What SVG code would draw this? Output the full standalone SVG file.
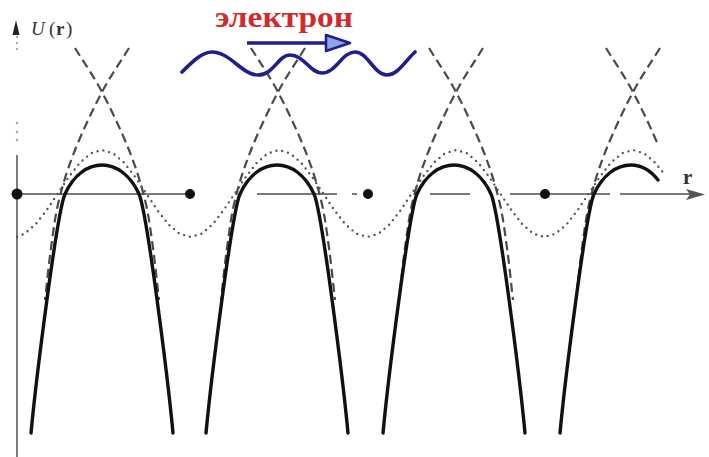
<svg xmlns="http://www.w3.org/2000/svg" xmlns:xlink="http://www.w3.org/1999/xlink" width="709" height="457" viewBox="0 0 709 457">
<style>
.axis{stroke:#7a7a7a;stroke-width:2;fill:none}
.solid{stroke:#111;stroke-width:3.4;fill:none;stroke-linecap:round}
.dash{stroke:#4a4a4a;stroke-width:2.2;fill:none;stroke-dasharray:9 5}
.dot{stroke:#555;stroke-width:2.4;fill:none;stroke-dasharray:0 6;stroke-linecap:round}
.serif{font-family:"Liberation Serif","Times New Roman",serif}
</style>
<defs>
<path id="bump" d="M-71,433 C-66,380 -45,211.6 -37,194 C-28.2,174.65 -14.1,165 0,165 C14.1,165 28.2,174.65 37,194 C45,211.6 66,380 71,433"/>
<path id="armA" d="M-27,48 C-18,62.7 -9,75 0,92 C9,109 19.8,132 27,150 C34.2,168 39,183.7 43,200 C47,216.3 48.7,231.3 51,248 C53.3,264.7 55,282.7 57,300"/>
</defs>
<rect width="709" height="457" fill="#fff"/>
<g id="axes">
<line class="axis" x1="17" y1="155" x2="17" y2="457"/>
<line x1="17" y1="36" x2="17" y2="54" stroke="#aaa" stroke-width="2" stroke-dasharray="2 4"/>
<circle cx="17" cy="123" r="1.3" fill="#aaa"/>
<circle cx="17" cy="132" r="1.3" fill="#aaa"/>
<circle cx="17" cy="140" r="1.3" fill="#aaa"/>
<polygon points="16,20 19.5,35 12.5,35" fill="#222"/>
<path class="axis" d="M17,194 H190 M257,194 H337 M352,194 H357 M430,194 H470 M510,194 H610 M620,194 H698"/>
<polygon points="705,194.5 686,189 690,194.5 686,200" fill="#555"/>
<circle cx="17" cy="194" r="5.5" fill="#111"/>
<circle cx="190" cy="194" r="5" fill="#111"/>
<circle cx="368" cy="194" r="5" fill="#111"/>
<circle cx="545" cy="194" r="5" fill="#111"/>
</g>
<g id="dotted">
<path class="dot" d="M17,236.7 L24.56,233.7 L35.63,224.3 L46.69,210.1 L57.75,193.5 L68.81,176.9 L79.88,162.7 L90.94,153.3 L102,150 L113.06,153.3 L124.13,162.7 L135.19,176.9 L146.25,193.5 L157.31,210.1 L168.38,224.3 L179.44,233.7 L190.5,237 L201.56,233.7 L212.63,224.3 L223.69,210.1 L234.75,193.5 L245.81,176.9 L256.88,162.7 L267.94,153.3 L279,150 L290.06,153.3 L301.13,162.7 L312.19,176.9 L323.25,193.5 L334.31,210.1 L345.38,224.3 L356.44,233.7 L367.5,237 L378.56,233.7 L389.63,224.3 L400.69,210.1 L411.75,193.5 L422.81,176.9 L433.88,162.7 L444.94,153.3 L456,150 L467.06,153.3 L478.13,162.7 L489.19,176.9 L500.25,193.5 L511.31,210.1 L522.38,224.3 L533.44,233.7 L544.5,237 L555.56,233.7 L566.63,224.3 L577.69,210.1 L588.75,193.5 L599.81,176.9 L610.88,162.7 L621.94,153.3 L633,150 L644.06,153.3 L655.13,162.7 L663,172.4"/>
</g>
<g id="dashed">
<g transform="translate(102,0)"><use xlink:href="#armA" class="dash"/><use xlink:href="#armA" class="dash" transform="scale(-1,1)"/></g>
<g transform="translate(278,0)"><use xlink:href="#armA" class="dash"/><use xlink:href="#armA" class="dash" transform="scale(-1,1)"/></g>
<g transform="translate(456,0)"><use xlink:href="#armA" class="dash"/><use xlink:href="#armA" class="dash" transform="scale(-1,1)"/></g>
<g transform="translate(633,0)"><path class="dash" d="M-27,48 C-18,62.7 -9,75 0,92 C9,109 19.8,132 25,145"/><use xlink:href="#armA" class="dash" transform="scale(-1,1)"/></g>
</g>
<g id="solid">
<use xlink:href="#bump" class="solid" transform="translate(102,0)"/>
<use xlink:href="#bump" class="solid" transform="translate(277,0)"/>
<use xlink:href="#bump" class="solid" transform="translate(454,0)"/>
<path class="solid" d="M560,433 C565,380 586,211.6 594,194 C602.8,174.65 616.9,165 631,165 C641,165 651,171 658,180"/>
</g>
<g id="electron">
<path d="M182,72 C192,62 202,52 212,52 C230,52 242,75 258,75 C274,75 278,55 290,55 C304,55 310,73 322,73 C336,73 342,52 355,52 C368,52 374,75 387,75 C398,75 406,60 415,52" fill="none" stroke="#1f1f8c" stroke-width="3.6" stroke-linecap="round"/>
<line x1="247" y1="43" x2="328" y2="43" stroke="#1f1f8c" stroke-width="3.5"/>
<polygon points="326,35 350,43 326,51" fill="#8fa6e6" stroke="#1f1f8c" stroke-width="2.5" stroke-linejoin="round"/>
<text class="serif" x="215" y="27" font-size="30" font-weight="bold" fill="#d02a2a" textLength="138" lengthAdjust="spacingAndGlyphs">электрон</text>
</g>
<g id="labels" fill="#333">
<text class="serif" font-size="19" y="35"><tspan x="31" font-style="italic">U</tspan><tspan x="49">(</tspan><tspan x="56" font-weight="bold">r</tspan><tspan x="66">)</tspan></text>
<text class="serif" x="683" y="184" font-size="21" font-weight="bold">r</text>
</g>
</svg>
